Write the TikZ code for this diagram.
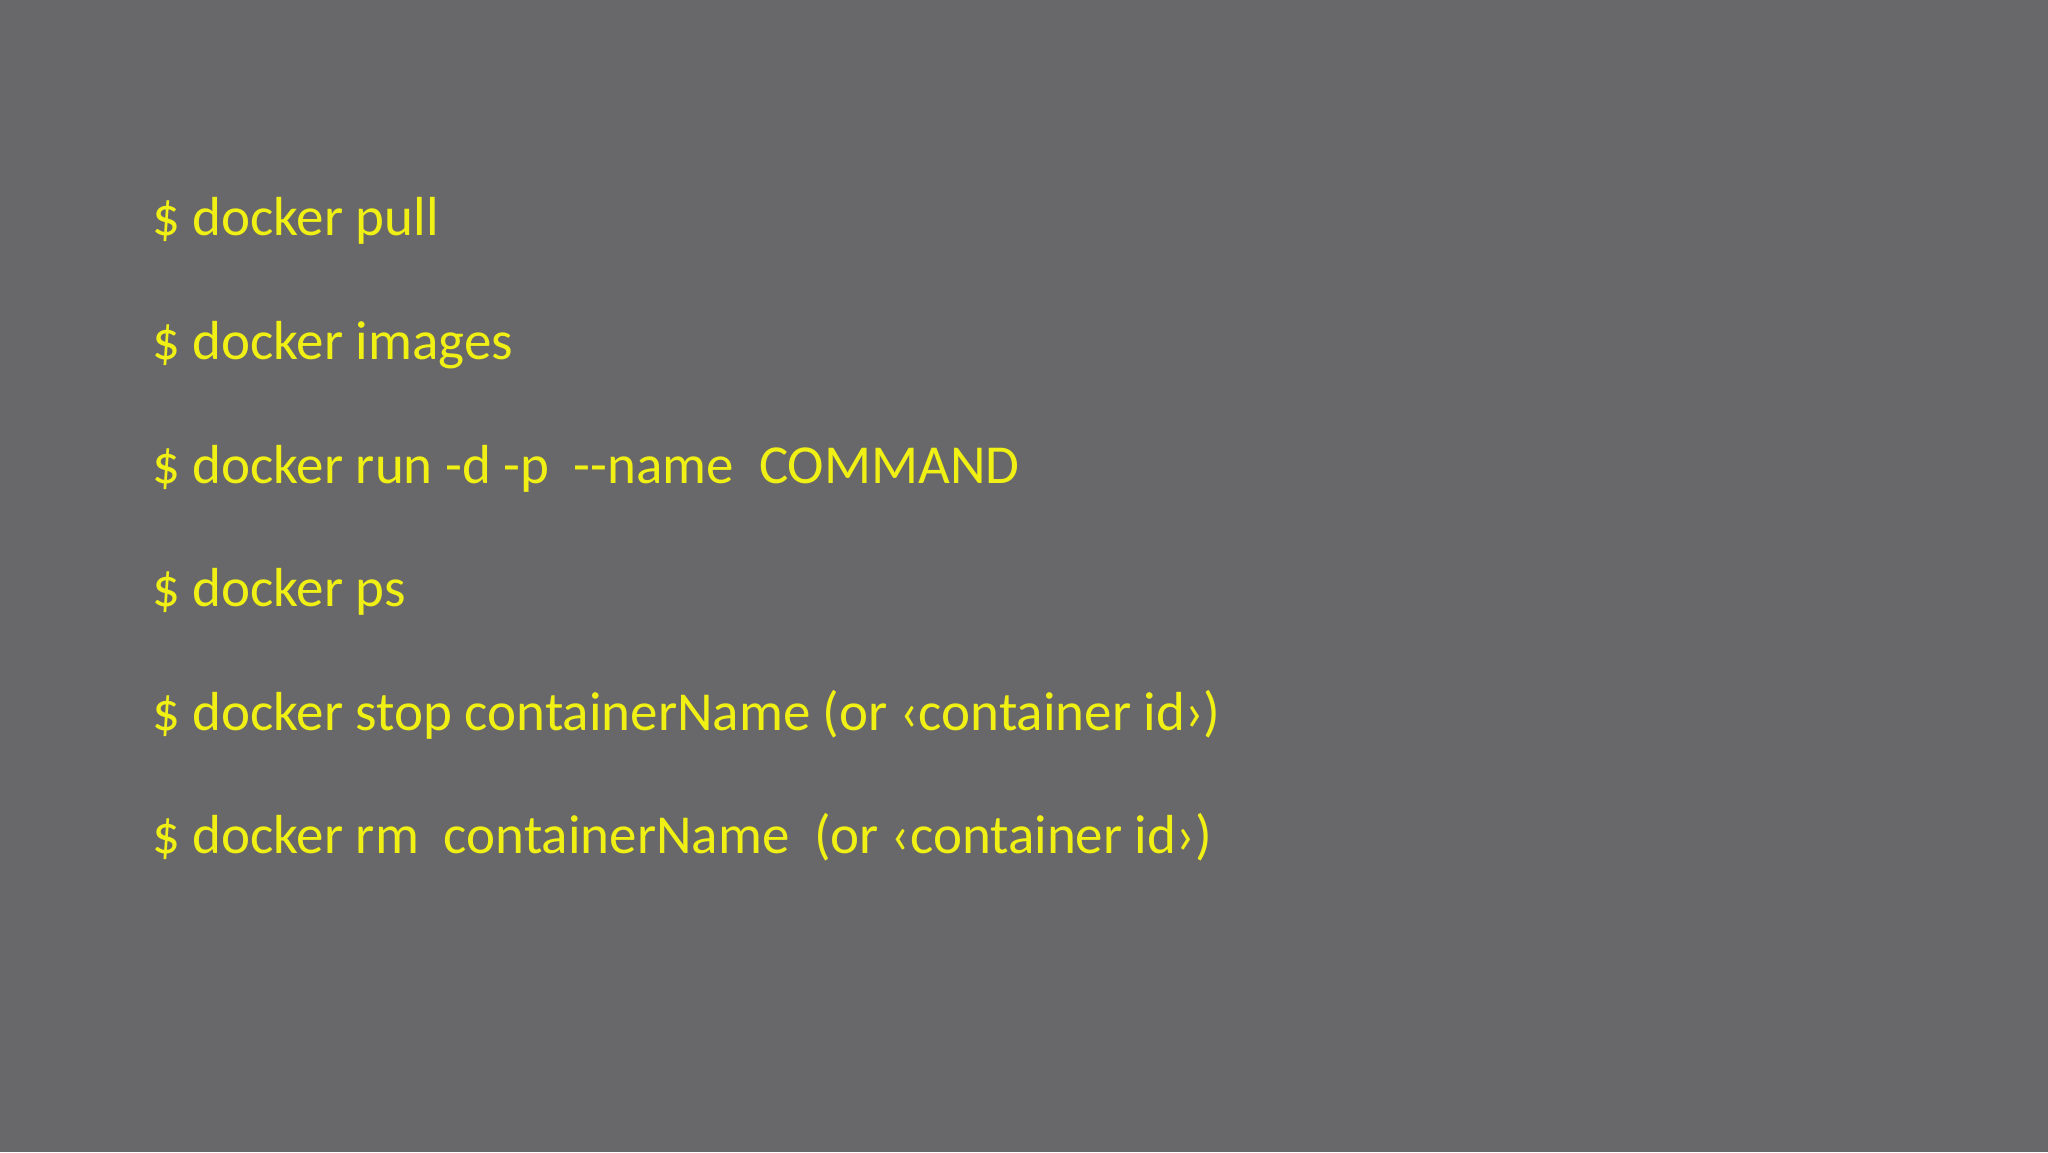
\documentclass[tikz,border=0pt]{standalone}
\usepackage{fontspec}
\setmainfont{Carlito}
\definecolor{bg}{RGB}{104,103,105}
\definecolor{chalk}{RGB}{240,240,20}
\begin{document}
\begin{tikzpicture}[x=1pt,y=-1pt,
  cmd/.style={anchor=base west,inner sep=0pt,text=chalk,font=\fontsize{55}{60}\selectfont}]
\fill[bg] (0,0) rectangle (2048,1152);
\useasboundingbox (0,0) rectangle (2048,1152);
\node[cmd] (l1) at (152,235) {\$ docker pull};
\node[cmd] (l2) at (152,359) {\$ docker images};
\node[cmd] (l3) at (152,483) {\$ docker run -d -p\ \ -{}-name\ \ COMMAND};
\node[cmd] (l4) at (152,606) {\$ docker ps};
\node[cmd] (l5) at (152,730) {\$ docker stop containerName (or ‹container id›)};
\node[cmd] (l6) at (152,853) {\$ docker rm\ \ containerName\ \ (or ‹container id›)};
\end{tikzpicture}
\end{document}
